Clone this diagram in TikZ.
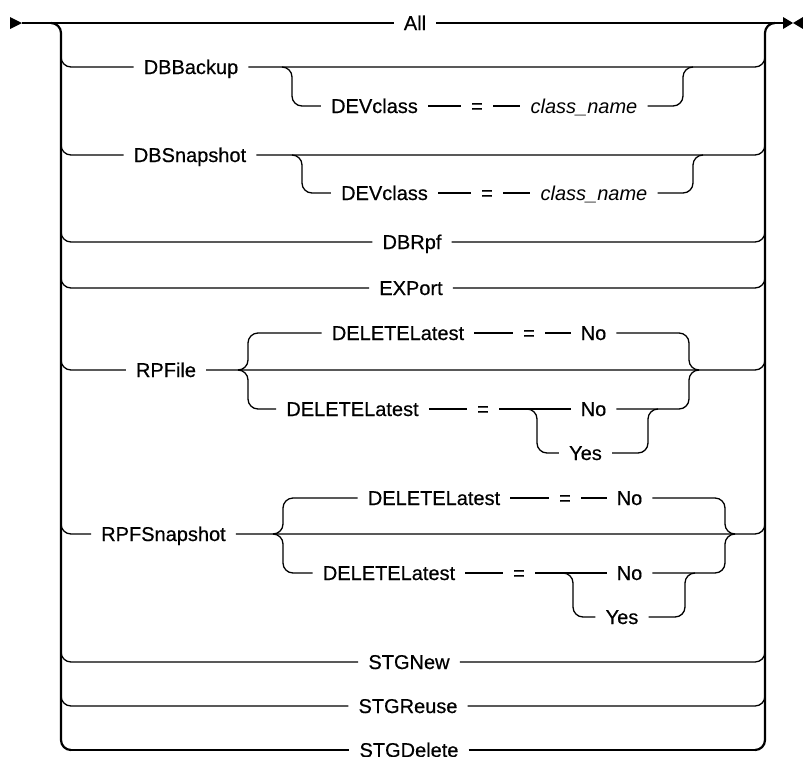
\documentclass[tikz,border=0pt]{standalone}
\usepackage{fontspec}
\setmainfont{Liberation Sans}[FakeBold=0.5]
\newfontfamily\diagfont{Liberation Sans}[AutoFakeBold=0.5]
\begin{document}
\begin{tikzpicture}[x=1pt,y=-1pt,
  ln/.style={line width=1.3pt},
  rail/.style={line width=2.2pt},
  tok/.style={font=\diagfont\bfseries\fontsize{20}{24}\selectfont, inner xsep=10pt, inner ysep=0pt, text height=14pt, text depth=0pt},
  var/.style={tok, font=\diagfont\bfseries\fontsize{20}{24}\selectfont\itshape},
  rc/.style={rounded corners=10pt}]
\useasboundingbox (0,0) rectangle (803,756);
% nodes
\node[tok] (all) at (415,23) {All};
\node[tok] (dbb) at (191,67) {DBBackup};
\node[tok] (dev1) at (374.5,106) {DEVclass};
\node[tok] (eq1) at (477,106) {=};
\node[var] (cn1) at (584,106) {class\_name};
\node[tok] (dbs) at (190,155) {DBSnapshot};
\node[tok] (dev2) at (384.5,193) {DEVclass};
\node[tok] (eq2) at (487,193) {=};
\node[var] (cn2) at (594,193) {class\_name};
\node[tok] (dbr) at (412,242) {DBRpf};
\node[tok] (exp) at (411,288) {EXPort};
\node[tok] (rpf) at (166,370) {RPFile};
\node[tok] (rfdel1) at (398,333) {DELETELatest};
\node[tok] (rfeq1) at (529,333) {=};
\node[tok] (rfno1) at (593.5,333) {No};
\node[tok] (rfdel2) at (352.5,409) {DELETELatest};
\node[tok] (rfeq2) at (483,409) {=};
\node[tok] (rfno2) at (593.5,409) {No};
\node[tok] (rfyes) at (585.5,453) {Yes};
\node[tok] (rps) at (163.5,534) {RPFSnapshot};
\node[tok] (rsdel1) at (434,498) {DELETELatest};
\node[tok] (rseq1) at (565,498) {=};
\node[tok] (rsno1) at (629.5,498) {No};
\node[tok] (rsdel2) at (389,573) {DELETELatest};
\node[tok] (rseq2) at (519,573) {=};
\node[tok] (rsno2) at (629.5,573) {No};
\node[tok] (rsyes) at (622,617) {Yes};
\node[tok] (stgn) at (409,662) {STGNew};
\node[tok] (stgr) at (408,706) {STGReuse};
\node[tok] (stgd) at (409,750) {STGDelete};
\coordinate (start) at (22,23);
\coordinate (end) at (783,23);
% arrows
\fill (10,17) -- (start) -- (10,29) -- cycle;
\fill (783,17) -- (793,23) -- (783,29) -- cycle;
\fill (803,17) -- (793,23) -- (803,29) -- cycle;
% main line
\draw[ln] (start) -- (all.west);
\draw[ln] (all.east) -- (end);
% rails
\draw[rail] (51,23) .. controls (56.5,23) and (61,27.5) .. (61,33) -- (61,740) .. controls (61,745.5) and (65.5,750) .. (71,750);
\draw[rail] (775,23) .. controls (769.5,23) and (765,27.5) .. (765,33) -- (765,740) .. controls (765,745.5) and (760.5,750) .. (755,750);
% DBBackup
\draw[ln,rc] (61,57) |- (dbb.west);
\draw[ln,rc] (dbb.east) -| (765,57);
\draw[ln,rc] (282,67) -| (292,106) -- (dev1.west);
\draw[ln] (dev1.east) -- (eq1.west);
\draw[ln] (eq1.east) -- (cn1.west);
\draw[ln,rc] (cn1.east) -| (683,67) -- (693,67);
% DBSnapshot
\draw[ln,rc] (61,145) |- (dbs.west);
\draw[ln,rc] (dbs.east) -| (765,145);
\draw[ln,rc] (292,155) -| (302,193) -- (dev2.west);
\draw[ln] (dev2.east) -- (eq2.west);
\draw[ln] (eq2.east) -- (cn2.west);
\draw[ln,rc] (cn2.east) -| (693,155) -- (703,155);
% DBRpf, EXPort
\draw[ln,rc] (61,232) |- (dbr.west);
\draw[ln,rc] (dbr.east) -| (765,232);
\draw[ln,rc] (61,278) |- (exp.west);
\draw[ln,rc] (exp.east) -| (765,278);
% RPFile
\draw[ln,rc] (61,360) |- (rpf.west);
\draw[ln,rc] (rpf.east) -| (765,360);
\draw[ln,rc] (238,370) -| (248,333) -- (rfdel1.west);
\draw[ln,rc] (238,370) -| (248,409) -- (rfdel2.west);
\draw[ln] (rfdel1.east) -- (rfeq1.west);
\draw[ln] (rfeq1.east) -- (rfno1.west);
\draw[ln,rc] (rfno1.east) -| (689,370) -- (699,370);
\draw[ln] (rfdel2.east) -- (rfeq2.west);
\draw[ln] (rfeq2.east) -- (rfno2.west);
\draw[ln,rc] (rfno2.east) -| (689,370) -- (699,370);
\draw[ln,rc] (527,409) -| (537,453) -- (rfyes.west);
\draw[ln,rc] (rfyes.east) -| (648,409) -- (658,409);
% RPFSnapshot
\draw[ln,rc] (61,524) |- (rps.west);
\draw[ln,rc] (rps.east) -| (765,524);
\draw[ln,rc] (273,534) -| (283,498) -- (rsdel1.west);
\draw[ln,rc] (273,534) -| (283,573) -- (rsdel2.west);
\draw[ln] (rsdel1.east) -- (rseq1.west);
\draw[ln] (rseq1.east) -- (rsno1.west);
\draw[ln,rc] (rsno1.east) -| (725,534) -- (735,534);
\draw[ln] (rsdel2.east) -- (rseq2.west);
\draw[ln] (rseq2.east) -- (rsno2.west);
\draw[ln,rc] (rsno2.east) -| (725,534) -- (735,534);
\draw[ln,rc] (563,573) -| (573,617) -- (rsyes.west);
\draw[ln,rc] (rsyes.east) -| (685,573) -- (695,573);
% STG rows
\draw[ln,rc] (61,652) |- (stgn.west);
\draw[ln,rc] (stgn.east) -| (765,652);
\draw[ln,rc] (61,696) |- (stgr.west);
\draw[ln,rc] (stgr.east) -| (765,696);
\draw[ln] (71,750) -- (stgd.west);
\draw[ln] (stgd.east) -- (755,750);
\end{tikzpicture}
\end{document}
